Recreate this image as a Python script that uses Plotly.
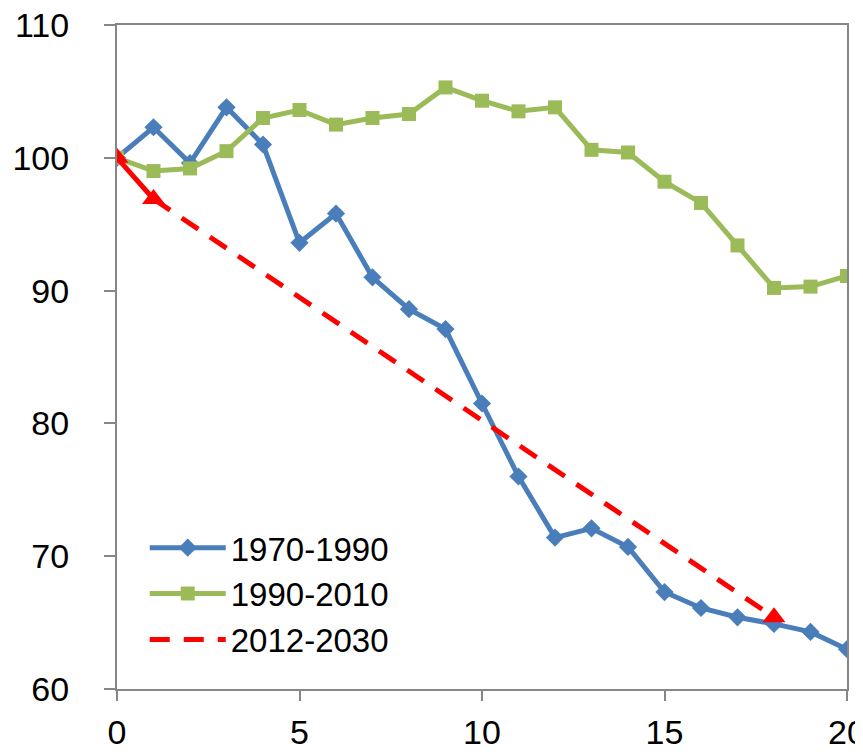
import plotly.graph_objects as go

# years elapsed since start of each period
years = list(range(21))

# index, start year = 100
s_1970_1990 = [100.0, 102.3, 99.6, 103.8, 101.0, 93.6, 95.8, 91.0, 88.6, 87.1, 81.5,
               76.0, 71.4, 72.1, 70.7, 67.3, 66.1, 65.4, 64.9, 64.3, 63.0]
s_1990_2010 = [100.0, 99.0, 99.2, 100.5, 103.0, 103.6, 102.5, 103.0, 103.3, 105.3, 104.3,
               103.5, 103.8, 100.6, 100.4, 98.2, 96.6, 93.4, 90.2, 90.3, 91.1]

# target path 2012-2030
red_x = [0, 1, 18]
red_y = [100.0, 96.9, 65.4]

BLUE = "#4A7EBB"
GREEN = "#9BBB59"
RED = "#FF0000"
AXIS = "#868686"
FONT = "Liberation Sans"

fig = go.Figure()

fig.add_trace(go.Scatter(
    x=years, y=s_1970_1990, name="1970-1990", mode="lines+markers",
    line=dict(color=BLUE, width=5),
    marker=dict(symbol="diamond", size=14, color=BLUE),
))
fig.add_trace(go.Scatter(
    x=years, y=s_1990_2010, name="1990-2010", mode="lines+markers",
    line=dict(color=GREEN, width=5),
    marker=dict(symbol="square", size=14, color=GREEN),
))
# dashed projection (legend entry)
fig.add_trace(go.Scatter(
    x=red_x[1:], y=red_y[1:], name="2012-2030", mode="lines",
    line=dict(color=RED, width=5, dash="20px,14px"),
))
# first year: solid segment with markers
fig.add_trace(go.Scatter(
    x=red_x[:2], y=red_y[:2], mode="lines+markers", showlegend=False,
    line=dict(color=RED, width=5),
    marker=dict(symbol="triangle-up", size=20, color=RED),
))
fig.add_trace(go.Scatter(
    x=red_x[2:], y=red_y[2:], mode="markers", showlegend=False,
    marker=dict(symbol="triangle-up", size=20, color=RED),
))

fig.update_xaxes(
    range=[0, 20], tickvals=[0, 5, 10, 15, 20], automargin=False,
    showgrid=False, zeroline=False,
    showline=True, linecolor=AXIS, linewidth=2, mirror=True,
    ticks="outside", ticklen=10, tickwidth=2, tickcolor=AXIS,
    ticklabelstandoff=2, ticklabeloverflow="allow",
    tickfont=dict(family=FONT, size=34, color="black"),
)
fig.update_yaxes(
    range=[60, 110], tickvals=[60, 70, 80, 90, 100, 110], automargin=False,
    showgrid=False, zeroline=False,
    showline=True, linecolor=AXIS, linewidth=2, mirror=True,
    ticks="outside", ticklen=11, tickwidth=2, tickcolor=AXIS,
    ticklabelstandoff=28, ticklabeloverflow="allow",
    tickfont=dict(family=FONT, size=34, color="black"),
)

# page body adds an 8px offset, so the figure is 8px smaller than the window
fig.update_layout(
    width=855, height=744,
    margin=dict(l=109, r=16, t=17, b=63),
    plot_bgcolor="white", paper_bgcolor="white",
    font=dict(family=FONT, size=34, color="black"),
    legend=dict(
        x=0.038, y=0.255, xanchor="left", yanchor="top",
        bgcolor="rgba(0,0,0,0)", itemwidth=76,
        font=dict(family=FONT, size=33, color="black"),
    ),
)

fig.write_html("out.html")
